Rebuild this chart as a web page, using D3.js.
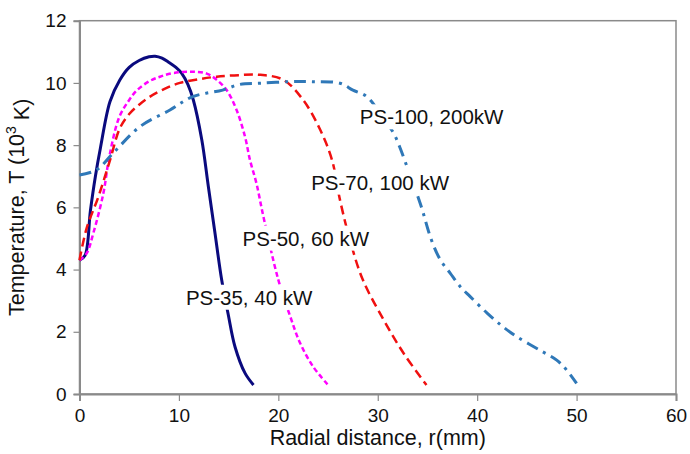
<!DOCTYPE html>
<html>
<head>
<meta charset="utf-8">
<script src="https://cdn.jsdelivr.net/npm/d3@7"></script>
<style>
  body { margin: 0; background: #fff; }
  text { font-family: "Liberation Sans", Arial, sans-serif; fill: #111; }
</style>
</head>
<body>
<script>
var width = 690,
    height = 454;

var margin = {top: 20.7, right: 14, bottom: 60, left: 79.5};

// radial distance (mm) and temperature (10^3 K)
var ps35R = [0, 0.55, 1.1, 1.6, 2.1, 3.07, 4.07, 5, 6, 7, 7.6, 8.3, 9.0, 9.7, 10.3, 10.9, 11.45, 12.3, 12.96, 13.63, 14.3, 14.97, 15.64, 16.65, 17.5];
var ps35T = [4.3, 4.45, 5.9, 7.0, 7.9, 9.4, 10.1, 10.5, 10.72, 10.84, 10.86, 10.8, 10.66, 10.5, 10.3, 9.95, 9.45, 8.17, 6.67, 5.17, 3.67, 2.54, 1.52, 0.67, 0.29];

var ps50R = [0, 0.72, 1.39, 2.4, 3.0, 4, 5, 5.8, 7, 8.1, 9.5, 11.4, 12.8, 13.8, 14.8, 15.8, 16.65, 17.15, 17.8, 18.5, 20, 21.2, 22.2, 23.5, 25];
var ps50T = [4.3, 4.52, 5.17, 6.45, 7.63, 8.9, 9.45, 9.77, 10.05, 10.2, 10.32, 10.36, 10.3, 10.1, 9.77, 9.13, 8.27, 7.52, 6.77, 5.7, 3.67, 2.49, 1.63, 0.88, 0.29];

var ps70R = [0, 0.72, 1.9, 3.07, 4.07, 5, 6, 7.1, 8.5, 10.1, 12, 13.8, 16, 18.2, 20.5, 22.5, 24.2, 25.4, 26.2, 27.2, 28.5, 30.6, 32.6, 34.9];
var ps70T = [4.3, 5.33, 6.34, 7.52, 8.55, 9.0, 9.3, 9.56, 9.8, 10.0, 10.12, 10.2, 10.25, 10.26, 10.1, 9.45, 8.5, 7.52, 6.24, 4.95, 3.67, 2.38, 1.31, 0.29];

var ps100R = [0, 1.7, 3.4, 6.1, 9.1, 11.4, 14.4, 16.1, 18.2, 21.2, 23.5, 26.2, 27.5, 28.9, 30.5, 31.6, 32.2, 32.7, 34.3, 35.4, 36.3, 37.3, 38.3, 39.3, 41, 42.6, 44, 46.3, 48, 49, 50];
var ps100T = [7.04, 7.2, 7.75, 8.6, 9.13, 9.56, 9.77, 9.95, 9.99, 10.04, 10.04, 9.99, 9.77, 9.56, 8.9, 8.38, 7.95, 7.52, 6.1, 4.95, 4.31, 3.88, 3.45, 3.13, 2.6, 2.16, 1.84, 1.41, 1.09, 0.77, 0.34];

var xTicks = [0, 10, 20, 30, 40, 50, 60];
var yTicks = [0, 2, 4, 6, 8, 10, 12];

var seriesNames = ["PS-35, 40 kW", "PS-50, 60 kW", "PS-70, 100 kW", "PS-100, 200kW"];
// label anchor: [r, T] at left/middle of the text
var labelR = [10.7, 16.4, 23.3, 28.2];
var labelT = [3.1, 5.0, 6.8, 8.9];

var series = [
  {name: seriesNames[0], r: ps35R, t: ps35T, color: "#0a0a7e", width: 3, dash: null},
  {name: seriesNames[1], r: ps50R, t: ps50T, color: "#ff00ff", width: 2.5, dash: "5,3"},
  {name: seriesNames[2], r: ps70R, t: ps70T, color: "#f01010", width: 2.5, dash: "9,5"},
  {name: seriesNames[3], r: ps100R, t: ps100T, color: "#2f78b8", width: 3, dash: "12,6,3,6"}
];

var svg = d3.select("body").append("svg")
    .attr("width", width)
    .attr("height", height);

var x = d3.scaleLinear().domain([0, 60]).range([margin.left, 676]);
var y = d3.scaleLinear().domain([0, 12]).range([394, margin.top]);

// frame
svg.append("rect")
  .attr("x", x(0)).attr("y", y(12))
  .attr("width", x(60) - x(0)).attr("height", y(0) - y(12))
  .attr("fill", "none").attr("stroke", "#8a8a8a").attr("stroke-width", 1.5);

// AXES
var xAxis = svg.append("g")
  .attr("transform", "translate(0," + y(0) + ")")
  .call(d3.axisBottom(x).tickValues(xTicks).tickSize(7).tickPadding(8));

var yAxis = svg.append("g")
  .attr("transform", "translate(" + x(0) + ",0)")
  .call(d3.axisLeft(y).tickValues(yTicks).tickSize(6).tickPadding(7));

[xAxis, yAxis].forEach(function(a) {
  a.select(".domain").attr("stroke", "#8a8a8a").attr("stroke-width", 2);
  a.selectAll(".tick line").attr("stroke", "#8a8a8a").attr("stroke-width", 1.2);
  a.selectAll(".tick text")
    .attr("font-family", "Liberation Sans, Arial, sans-serif")
    .attr("font-size", 19).attr("fill", "#111");
});

// CURVES
var line = d3.line()
  .x(function(d) { return x(d[0]); })
  .y(function(d) { return y(d[1]); })
  .curve(d3.curveCatmullRom.alpha(0.5));

svg.append("g").selectAll("path")
  .data(series)
  .enter().append("path")
    .attr("d", function(s) { return line(d3.zip(s.r, s.t)); })
    .attr("fill", "none")
    .attr("stroke", function(s) { return s.color; })
    .attr("stroke-width", function(s) { return s.width; })
    .attr("stroke-dasharray", function(s) { return s.dash; })
    .attr("stroke-linecap", "butt");

// LABELS (white box behind text hides the curves)
var labels = svg.append("g").selectAll("g")
  .data(seriesNames)
  .enter().append("g");

labels.append("rect").attr("fill", "#fff");

labels.append("text")
  .attr("x", function(d, i) { return x(labelR[i]); })
  .attr("y", function(d, i) { return y(labelT[i]); })
  .attr("dy", "0.35em")
  .attr("font-size", 20.5)
  .text(function(d) { return d; });

labels.each(function() {
  var g = d3.select(this);
  var b = g.select("text").node().getBBox();
  g.select("rect")
    .attr("x", b.x - 3).attr("y", b.y - 1)
    .attr("width", b.width + 6).attr("height", b.height + 2);
});

// axis titles
svg.append("text")
  .attr("x", (x(0) + x(60)) / 2)
  .attr("y", 445)
  .attr("text-anchor", "middle")
  .attr("font-size", 21.5)
  .text("Radial distance, r(mm)");

var yt = svg.append("text")
  .attr("transform", "translate(24," + ((y(0) + y(12)) / 2) + ") rotate(-90)")
  .attr("text-anchor", "middle")
  .attr("font-size", 21.5);
yt.append("tspan").text("Temperature, T (10");
yt.append("tspan").attr("font-size", 14).attr("dy", "-0.6em").text("3");
yt.append("tspan").attr("dy", "0.6em").text(" K)");
</script>
</body>
</html>
